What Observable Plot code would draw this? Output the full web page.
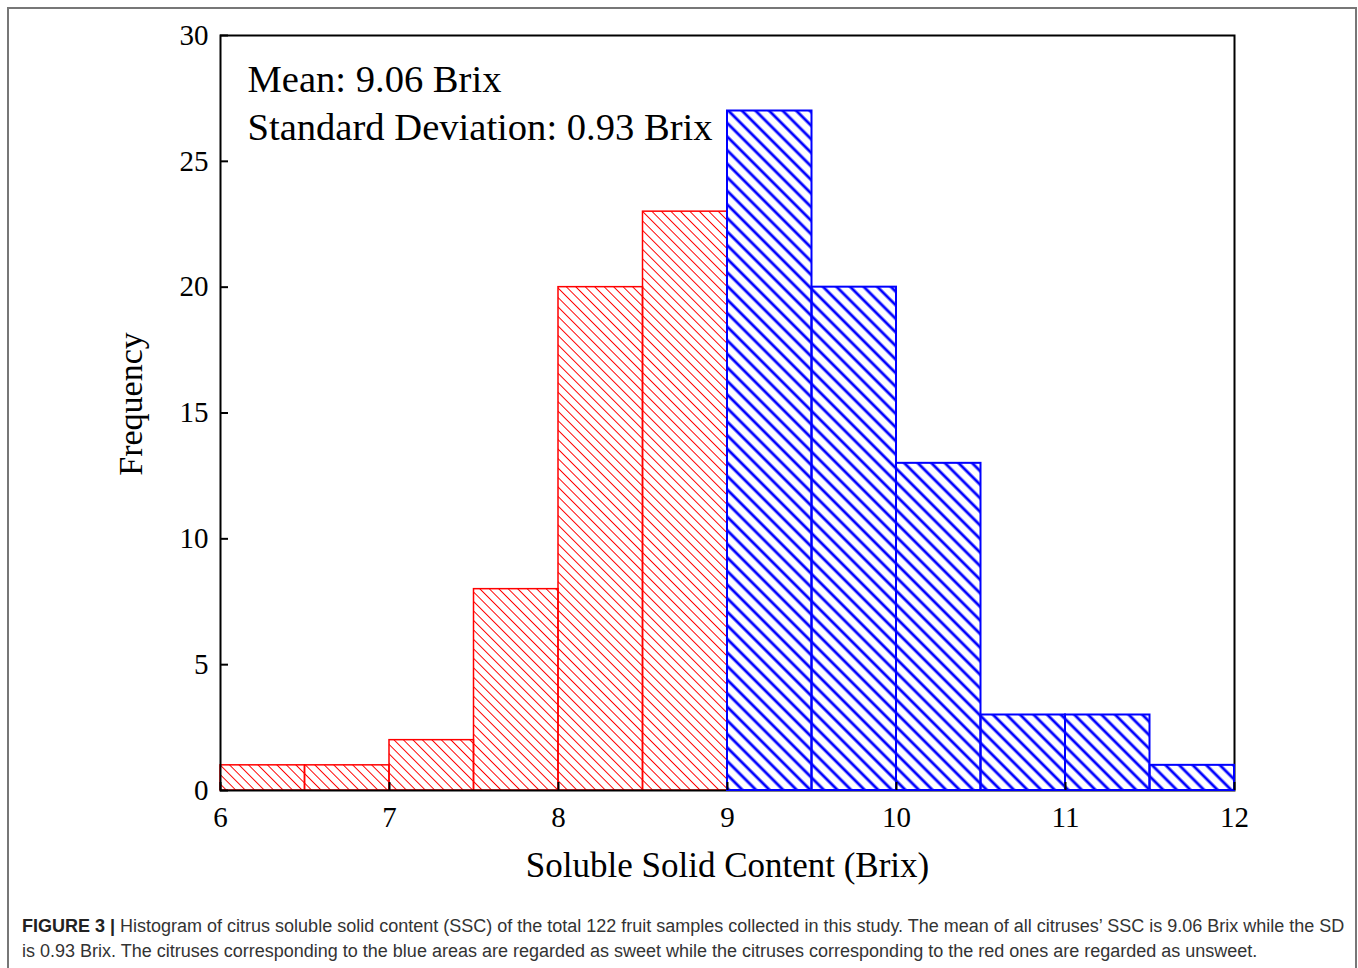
<!DOCTYPE html>
<html><head><meta charset="utf-8">
<script src="https://cdn.jsdelivr.net/npm/d3@7"></script>
<script src="https://cdn.jsdelivr.net/npm/@observablehq/plot@0.6"></script>
<style>
body{margin:0;background:#fff;}
#wrap{position:relative;width:1358px;height:968px;overflow:hidden;background:#fff;}
#border{position:absolute;left:7px;top:7px;width:1346px;height:1000px;border:2px solid #777;}
#chart{position:absolute;left:0;top:0;}
#caption{position:absolute;left:22px;top:914px;width:1334px;font-family:"Liberation Sans",Arial,sans-serif;font-size:18px;line-height:25px;color:#333;white-space:nowrap;}
#caption b{color:#222;}
</style></head>
<body><div id="wrap"><div id="border"></div><div id="chart"></div>
<div id="caption"><b>FIGURE 3 |</b> Histogram of citrus soluble solid content (SSC) of the total 122 fruit samples collected in this study. The mean of all citruses’ SSC is 9.06 Brix while the SD<br>is 0.93 Brix. The citruses corresponding to the blue areas are regarded as sweet while the citruses corresponding to the red ones are regarded as unsweet.</div>
</div>
<script>
const binStart = [6, 6.5, 7, 7.5, 8, 8.5, 9, 9.5, 10, 10.5, 11, 11.5];
const binEnd = [6.5, 7, 7.5, 8, 8.5, 9, 9.5, 10, 10.5, 11, 11.5, 12];
const frequency = [1, 1, 2, 8, 20, 23, 27, 20, 13, 3, 3, 1];
const xTicks = [6, 7, 8, 9, 10, 11, 12];
const yTicks = [0, 5, 10, 15, 20, 25, 30];
const sweetThreshold = 9;
const annotation = ["Mean: 9.06 Brix", "Standard Deviation: 0.93 Brix"];
const xLabel = "Soluble Solid Content (Brix)";
const yLabel = "Frequency";

const bins = binStart.map((s, i) => ({start: s, end: binEnd[i], count: frequency[i]}));
const unsweet = bins.filter(d => d.start < sweetThreshold);
const sweet = bins.filter(d => d.start >= sweetThreshold);

const W = 1358, H = 900;
const mL = 220, mR = 124, mT = 35, mB = 110;
const innerW = W - mL - mR, innerH = H - mT - mB;
const tickLen = 8;
const serif = "'Liberation Serif','Times New Roman',serif";

const plot = Plot.plot({
  width: W, height: H,
  marginLeft: mL, marginRight: mR, marginTop: mT, marginBottom: mB,
  style: {fontFamily: serif, background: "transparent", overflow: "visible"},
  x: {domain: [6, 12], ticks: xTicks},
  y: {domain: [0, 30], ticks: yTicks},
  marks: [
    Plot.rectY(unsweet, {x1: "start", x2: "end", y: "count", fill: "url(#hatchRed)", stroke: "#ff0000", strokeWidth: 1.5}),
    Plot.frame({stroke: "#000", strokeWidth: 2}),
    Plot.rectY(sweet, {x1: "start", x2: "end", y: "count", fill: "url(#hatchBlue)", stroke: "#0000ff", strokeWidth: 2}),
    Plot.tickY(yTicks, {y: d => d, stroke: "#000", strokeWidth: 2, insetRight: innerW - tickLen}),
    Plot.tickX(xTicks, {x: d => d, stroke: "#000", strokeWidth: 2, insetTop: innerH - tickLen}),
    Plot.axisX({ticks: xTicks, tickSize: 0, tickPadding: 16, fontSize: 29, label: null, tickFormat: d => String(d)}),
    Plot.axisY({ticks: yTicks, tickSize: 0, tickPadding: 12, fontSize: 29, label: null, tickFormat: d => String(d)}),
    Plot.text([annotation.join("\n")], {frameAnchor: "top-left", textAnchor: "start", lineAnchor: "top", dx: 27, dy: 22, fontSize: 38.6, lineHeight: 1.245, fill: "#000"}),
    Plot.text([xLabel], {frameAnchor: "bottom", textAnchor: "middle", lineAnchor: "middle", dy: 75, fontSize: 35, fill: "#000"}),
    Plot.text([yLabel], {frameAnchor: "left", textAnchor: "middle", lineAnchor: "middle", dx: -89, dy: -9, rotate: -90, fontSize: 34, fill: "#000"})
  ]
});

const svg = d3.select(plot);
const defs = svg.insert("defs", ":first-child");
const red = defs.append("pattern").attr("id", "hatchRed").attr("patternUnits", "userSpaceOnUse")
  .attr("width", 10).attr("height", 6.7).attr("patternTransform", "rotate(45)");
red.append("line").attr("x1", -1).attr("x2", 11).attr("y1", 3.35).attr("y2", 3.35).attr("stroke", "#ff0000").attr("stroke-width", 1);
const blue = defs.append("pattern").attr("id", "hatchBlue").attr("patternUnits", "userSpaceOnUse")
  .attr("width", 10).attr("height", 9.6).attr("patternTransform", "rotate(45)");
blue.append("line").attr("x1", -1).attr("x2", 11).attr("y1", 4.8).attr("y2", 4.8).attr("stroke", "#0000ff").attr("stroke-width", 2.8);

document.getElementById("chart").appendChild(plot);
</script>
</body></html>
